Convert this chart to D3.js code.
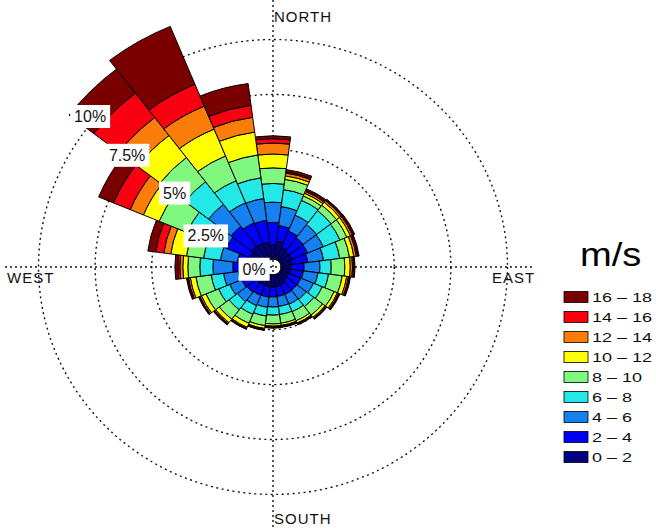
<!DOCTYPE html>
<html><head><meta charset="utf-8">
<script src="https://cdn.jsdelivr.net/npm/d3@7"></script>
<style>body{margin:0;background:#fff} svg{display:block}</style>
</head><body>
<svg id="chart" width="656" height="528"></svg>
<script>
// ---- data (percent of time, per direction sector, per speed bin) ----
const directions = [0,15,30,45,60,75,90,105,120,135,150,165,180,195,210,225,240,255,270,285,300,315,330,345];
const speedBins = ['0 – 2','2 – 4','4 – 6','6 – 8','8 – 10','10 – 12','12 – 14','14 – 16','16 – 18'];
const binColors = ['#000080','#0000FF','#1580F0','#22E8E8','#80F880','#FFFF00','#FA7D0A','#F80010','#7A0000'];

const s0_2   = [0.65,0.84,0.62,0.55,0.55,0.50,0.42,0.42,0.42,0.45,0.50,0.55,0.56,0.56,0.56,0.58,0.60,0.60,0.80,0.62,0.76,0.86,0.82,0.78];
const s2_4   = [1.03,0.71,0.80,0.78,0.75,0.70,0.60,0.58,0.56,0.53,0.50,0.45,0.45,0.47,0.49,0.52,0.55,0.60,0.62,0.62,1.12,1.12,1.00,1.01];
const s4_6   = [0.92,0.87,0.78,0.75,0.75,0.70,0.70,0.65,0.60,0.52,0.48,0.46,0.46,0.47,0.50,0.53,0.57,0.65,0.88,0.75,0.89,1.26,0.99,1.00];
const s6_8   = [0.85,0.78,0.73,0.80,0.80,0.72,0.50,0.47,0.42,0.42,0.37,0.37,0.37,0.40,0.43,0.47,0.53,0.55,0.58,0.75,0.98,1.30,1.09,0.95];
const s8_10  = [0.71,0.47,0.22,0.31,0.33,0.43,0.60,0.61,0.57,0.49,0.45,0.40,0.40,0.44,0.44,0.54,0.60,0.68,0.53,0.76,1.34,1.39,1.22,1.05];
const s10_12 = [0.63,0.16,0.13,0.17,0.17,0.20,0.24,0.20,0.15,0.13,0.11,0.10,0.10,0.13,0.20,0.20,0.22,0.25,0.22,0.70,0.75,1.26,1.32,1.05];
const s12_14 = [0.50,0.13,0.09,0.09,0.09,0.11,0.10,0.08,0.06,0.05,0.04,0.04,0.04,0.04,0.05,0.06,0.07,0.08,0.13,0.31,0.63,1.03,1.13,0.68];
const s14_16 = [0.20,0.06,0.06,0.05,0.06,0.06,0.06,0.05,0.04,0.03,0.03,0.03,0.03,0.03,0.03,0.04,0.04,0.05,0.09,0.36,0.80,1.40,1.08,0.55];
const s16_18 = [0.13,0.10,0.07,0.04,0.05,0.06,0.05,0.04,0.03,0.03,0.02,0.02,0.02,0.02,0.02,0.03,0.03,0.04,0.13,0.35,0.71,1.38,2.85,1.00];

const ringTicks  = [0, 2.5, 5, 7.5, 10];
const ringLabels = ['0%','2.5%','5%','7.5%','10%'];
const compassLabels = ['NORTH','EAST','SOUTH','WEST'];
const unitLabel = 'm/s';

// ---- layout ----
const cx = 273, cy = 267, yScale = 0.97;
const font = '"Liberation Sans", Arial, Helvetica, sans-serif';
const rScale = d3.scaleLinear().domain([0, 10]).range([8, 234.5]);
const svg = d3.select('#chart');
const toRad = a => a * Math.PI / 180;

// axis cross (dotted)
const axisG = svg.append('g').attr('stroke', '#111').attr('stroke-width', 1.4)
  .attr('stroke-dasharray', '2,3');
axisG.append('line').attr('x1', 5).attr('x2', 535).attr('y1', cy).attr('y2', cy);
axisG.append('line').attr('x1', cx).attr('x2', cx).attr('y1', 0).attr('y2', 528);

const polar = svg.append('g').attr('transform', `translate(${cx},${cy}) scale(1,${yScale})`);

polar.selectAll('circle.ring').data(ringTicks.filter(v => v > 0)).join('circle')
  .attr('class', 'ring')
  .attr('r', d => rScale(d)).attr('fill', 'none')
  .attr('stroke', '#111').attr('stroke-width', 1.4).attr('stroke-dasharray', '2,3.5');

// stacked sectors
const binSeries = [s0_2, s2_4, s4_6, s6_8, s8_10, s10_12, s12_14, s14_16, s16_18];
const cells = [];
directions.forEach((dir, i) => {
  let cum = 0;
  binSeries.forEach((series, j) => {
    const v = series[i];
    cells.push({ dir, j, a: cum, b: cum + v });
    cum += v;
  });
});
const halfWidth = 360 / directions.length / 2;
const arc = d3.arc();
polar.selectAll('path.cell').data(cells).join('path')
  .attr('class', 'cell')
  .attr('d', d => arc({
    innerRadius: rScale(d.a), outerRadius: rScale(d.b),
    startAngle: toRad(d.dir - halfWidth), endAngle: toRad(d.dir + halfWidth)
  }))
  .attr('fill', d => binColors[d.j])
  .attr('stroke', '#000').attr('stroke-width', 1);

// ring percent labels with white boxes
const labelAngle = [264, 295, 307, 307.5, 309.5];
const labelPad = [11, 9.5, 2, 6, 2.5];
ringTicks.forEach((v, i) => {
  const r = rScale(v) + labelPad[i];
  const a = toRad(labelAngle[i]);
  const x = cx + r * Math.sin(a), y = cy - r * Math.cos(a);
  const g = svg.append('g');
  const t = g.append('text').attr('x', x).attr('y', y).attr('dy', '0.36em')
    .attr('text-anchor', 'middle').attr('font-family', font).attr('font-size', 16)
    .attr('fill', '#111').text(ringLabels[i]);
  const bb = t.node().getBBox();
  g.insert('rect', 'text').attr('x', bb.x - 4).attr('y', bb.y - 3)
    .attr('width', bb.width + 8).attr('height', bb.height + 6).attr('fill', '#fff');
});

// compass labels
const compassPos = [[274, 22], [492, 283], [274, 524], [7, 283]];
compassLabels.forEach((lab, i) => {
  svg.append('text').attr('x', compassPos[i][0]).attr('y', compassPos[i][1])
    .attr('font-family', font).attr('font-size', 15).attr('letter-spacing', 1)
    .attr('fill', '#111').text(lab);
});

// legend
svg.append('text').attr('transform', 'translate(580,266) scale(1.12,1)')
  .attr('font-family', font).attr('font-size', 34).attr('fill', '#000').text(unitLabel);
const legend = svg.append('g');
speedBins.forEach((lab, j) => {
  const k = speedBins.length - 1 - j;
  const yc = 297 + 20 * k;
  legend.append('rect').attr('x', 564).attr('y', yc - 5.5).attr('width', 24).attr('height', 11)
    .attr('fill', binColors[j]).attr('stroke', '#000').attr('stroke-width', 0.8);
  legend.append('text').attr('transform', `translate(592,${yc + 4.5}) scale(1.5,1)`)
    .attr('font-family', font).attr('font-size', 12).attr('fill', '#111').text(lab);
});
</script>
</body></html>
